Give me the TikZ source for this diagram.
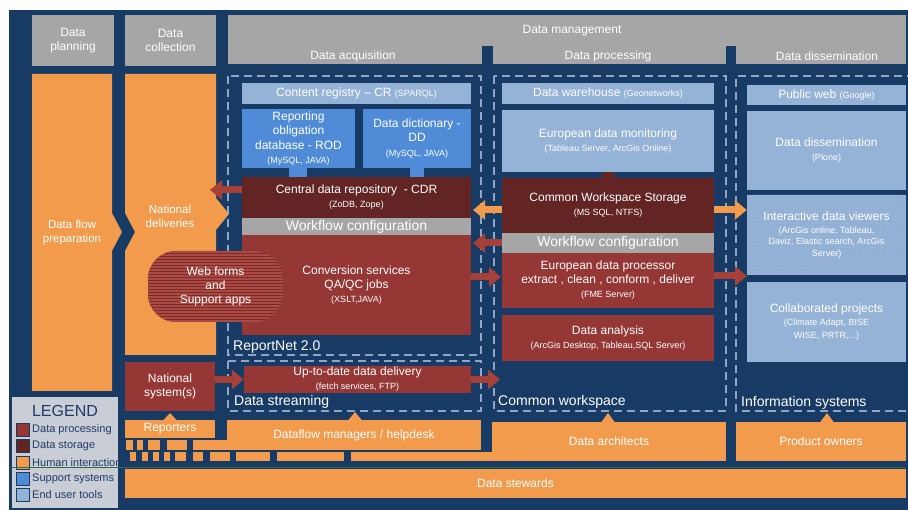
\documentclass[tikz,border=0pt]{standalone}
\usepackage{fontspec}
\setmainfont{Liberation Sans}
\usetikzlibrary{arrows.meta,patterns}
\definecolor{navy}{HTML}{173B65}
\definecolor{hgray}{HTML}{A6A6A6}
\definecolor{orng}{HTML}{F39B4D}
\definecolor{lblue}{HTML}{95B3D7}
\definecolor{mblue}{HTML}{4F8BD6}
\definecolor{dred}{HTML}{953735}
\definecolor{maroon}{HTML}{632523}
\definecolor{dashc}{HTML}{8FA6C4}
\definecolor{legbg}{HTML}{C9CDD5}
\definecolor{legtx}{HTML}{1F3A68}
\definecolor{arrred}{HTML}{A8403A}
\definecolor{wfdark}{HTML}{7E2A27}
\definecolor{wflight}{HTML}{A94B44}
\definecolor{grn}{HTML}{2E6B4A}
\definecolor{dotc}{HTML}{7F9CC2}
\newcommand{\fStd}{\fontsize{12}{14}\selectfont}
\newcommand{\fHead}{\fontsize{12}{14.5}\selectfont}
\newcommand{\fLeft}{\fontsize{11.5}{14}\selectfont}
\newcommand{\fWf}{\fontsize{14}{16}\selectfont}
\newcommand{\fBig}{\fontsize{14}{16}\selectfont}
\newcommand{\smt}[1]{{\fontsize{9}{10.5}\selectfont #1}}
\newcommand{\rbox}[7]{\node[blk,#2,minimum width={(#5-(#3))*1pt},minimum height={(#6-(#4))*1pt}] (#1) at ({(#3+#5)/2},{(#4+#6)/2}) {#7};}
\begin{document}
\begin{tikzpicture}[x=1pt,y=-1pt,
  blk/.style={draw=none, inner sep=0pt, align=center, text=white, font=\fStd},
  lbl/.style={inner sep=0pt, text=white, font=\fHead},
  cont/.style={inner sep=0pt, text=white, font=\fBig, anchor=west},
  dsh/.style={draw=dashc, line width=1.3pt, dash pattern=on 8pt off 5pt},
  rarr/.style={draw=arrred, line width=7pt, -{Triangle[length=12pt,width=19pt]}},
  oarr/.style={draw=orng, line width=7pt, -{Triangle[length=12pt,width=19pt]}},
  legsq/.style={draw=navy, line width=1.5pt, minimum width=13pt, minimum height=13pt, inner sep=0pt},
  legtxt/.style={inner sep=0pt, anchor=west, text=legtx, font=\fontsize{11}{13}\selectfont}
]
\useasboundingbox (0,0) rectangle (908,510);
\clip (0,0) rectangle (908,510);
\fill[white] (0,0) rectangle (908,510);
\fill[navy] (9,10) rectangle (908,510);

% headers
\rbox{plan}{fill=hgray,font=\fHead}{32}{15}{114}{66}{Data\\planning}
\rbox{coll}{fill=hgray,font=\fHead}{125}{15}{216}{66}{Data\\collection}
\rbox{dm}{fill=hgray}{228}{15}{906}{64}{}
\fill[navy] (482,46) rectangle (493,64.5);
\fill[navy] (726,46) rectangle (736,64.5);
\node[lbl] (tdm) at (572,31) {Data management};
\node[lbl] (tacq) at (353,56) {Data acquisition};
\node[lbl] (tproc) at (608,56) {Data processing};
\node[lbl] (tdis) at (827,56) {Data dissemination};

% orange chevron columns
\fill[orng] (32,74) -- (112,74) -- (112,213) -- (122,232) -- (112,251) -- (112,391) -- (32,391) -- cycle;
\node[blk,font=\fLeft] (dfp) at (72,233) {Data flow\\preparation};
\fill[orng] (125,74) -- (216,74) -- (216,198) -- (229,214) -- (216,230) -- (216,355) -- (125,355) -- (125,251) -- (135,232) -- (125,213) -- cycle;
\node[blk,font=\fLeft] (nd) at (170,216) {National\\deliveries};

% dashed containers
\draw[dsh] (228,76) rectangle (481,355);
\draw[dsh] (228,361) rectangle (481,411);
\draw[dsh] (494,76) rectangle (726,411);
\draw[dsh] (915,76) -- (736,76) -- (736,411) -- (915,411);
\node[cont] (trn) at (233,347) {ReportNet 2.0};
\node[cont] (tds) at (234,402) {Data streaming};
\node[cont] (tcw) at (498,402) {Common workspace};
\node[cont] (tis) at (741,403) {Information systems};

% ReportNet
\rbox{cr}{fill=lblue}{242}{83}{471}{104}{Content registry -- CR \smt{(SPARQL)}}
\rbox{rod}{fill=mblue,font=\fHead}{242}{109}{355}{168}{Reporting\\obligation\\database - ROD\\\smt{(MySQL, JAVA)}}
\rbox{dd}{fill=mblue,font=\fHead}{363}{109}{471}{168}{Data dictionary -\\DD\\\smt{(MySQL, JAVA)}}
\rbox{cdr}{fill=maroon}{242}{177}{471}{218}{Central data repository~ - CDR\\\smt{(ZoDB, Zope)}}
\rbox{wf1}{fill=hgray,font=\fWf}{242}{218}{471}{235}{Workflow configuration}
\rbox{conv}{fill=dred}{242}{235}{471}{335}{Conversion services\\QA/QC jobs\\\smt{(XSLT,JAVA)}}
\coordinate (s1) at (298,0);
\coordinate (s2) at (417,0);
\draw[mblue,line width=18pt] (rod.south -| s1) -- (cdr.north -| s1);
\draw[mblue,line width=14pt] (dd.south -| s2) -- (cdr.north -| s2);
\rbox{upd}{fill=dred}{244}{366}{471}{393}{Up-to-date data delivery\\\smt{(fetch services, FTP)}}

% processing
\rbox{dw}{fill=lblue}{502}{83}{714}{104}{Data warehouse \smt{(Geonetworks)}}
\rbox{edm}{fill=lblue}{502}{110}{714}{172}{European data monitoring\\\smt{(Tableau Server, ArcGis Online)}}
\rbox{cws}{fill=maroon}{502}{178}{714}{233}{Common Workspace Storage\\\smt{(MS SQL, NTFS)}}
\coordinate (s3) at (608.5,0);
\draw[maroon,line width=13pt] (edm.south -| s3) -- (cws.north -| s3);
\rbox{wf2}{fill=hgray,font=\fWf}{502}{233}{714}{253}{Workflow configuration}
\rbox{edp}{fill=dred}{502}{253}{714}{308}{European data processor\\extract , clean , conform , deliver\\\smt{(FME Server)}}
\rbox{da}{fill=dred}{502}{315}{714}{361}{Data analysis\\\smt{(ArcGis Desktop, Tableau,SQL Server)}}

% dissemination
\rbox{pw}{fill=lblue}{747}{85}{906}{105}{Public web \smt{(Google)}}
\rbox{dis}{fill=lblue}{747}{111}{906}{190}{Data dissemination\\\smt{(Plone)}}
\rbox{idv}{fill=lblue,postaction={pattern=dots,pattern color=dotc},font=\fontsize{12}{11.5}\selectfont}{747}{195}{906}{275}{Interactive data viewers\\[1.5pt]\smt{(ArcGis online, Tableau,}\\\smt{Daviz, Elastic search, ArcGis}\\\smt{Server)}}
\rbox{cp}{fill=lblue,font=\fontsize{12}{12.5}\selectfont}{747}{282}{906}{362}{Collaborated projects\\[1pt]\smt{(Climate Adapt, BISE}\\\smt{WISE, PRTR,...)}}

% web forms
\node[blk, rounded corners=28pt, fill=wfdark, minimum width=135pt, minimum height=71pt,
  path picture={\foreach \k in {0,...,24} {\draw[wflight,line width=1.2pt] ([yshift=-\k*3pt-1pt]path picture bounding box.north west) -- ([yshift=-\k*3pt-1pt]path picture bounding box.north east);}}]
  (web) at (215.5,286.5) {Web forms\\and\\Support apps};

% national systems & people
\rbox{nsys}{fill=dred,font=\fHead}{125}{362}{215}{411}{National\\system(s)}
\rbox{rep}{fill=orng,font=\fHead}{125}{420}{215}{438}{Reporters}
\rbox{dfm}{fill=orng,font=\fHead}{227}{420}{481}{450}{Dataflow managers / helpdesk}
\rbox{darch}{fill=orng,font=\fHead}{492}{422}{726}{461}{Data architects}
\rbox{po}{fill=orng,font=\fHead}{736}{422}{906}{461}{Product owners}
\rbox{ds}{fill=orng,font=\fHead}{125}{469}{906}{498}{Data stewards}
\fill[orng] (163,420.5) -- (170,413) -- (177,420.5) -- cycle;
\fill[orng] (348,420.5) -- (355,412) -- (362,420.5) -- cycle;
\fill[orng] (601,422.5) -- (608,413) -- (615,422.5) -- cycle;
\fill[orng] (820,422.5) -- (827,413) -- (834,422.5) -- cycle;
\foreach \a/\b in {126/133,137/143,148/160,167/187,193/228} {\fill[orng] (\a,440) rectangle (\b,450);}
\foreach \a/\b in {130/136,142/148,153/159,164/170,175/186,193/203,210/230,236/270,277/344,351/493} {\fill[orng] (\a,452) rectangle (\b,461);}

% arrows
\coordinate (a1) at (210,190);
\coordinate (a2) at (473,210);
\coordinate (a3) at (473,243);
\coordinate (a4) at (501,277);
\coordinate (a5) at (747,210);
\coordinate (a6) at (747,276);
\coordinate (a8) at (500,379.5);
\draw[rarr] (cdr.west |- a1) -- (a1);
\draw[oarr] (cws.west |- a2) -- (a2);
\draw[rarr] (wf2.west |- a3) -- (a3);
\draw[rarr] (conv.east |- a4) -- (a4);
\draw[oarr] (cws.east |- a5) -- (idv.west |- a5);
\draw[rarr] (edp.east |- a6) -- (a6);
\draw[rarr] (nsys.east |- upd.west) -- (upd.west);
\draw[rarr] (upd.east) -- (a8);

% legend
\begin{scope}
\clip (12,397) rectangle (118,508);
\node[fill=legbg, minimum width=106pt, minimum height=111pt, inner sep=0pt] (leg) at (65,452.5) {};
\node[inner sep=0pt, text=legtx, font=\fontsize{16}{18}\selectfont] (legt) at (65,411) {LEGEND};
\node[legsq, fill=dred] (l1) at (23,430) {};
\node[legsq, fill=maroon] (l2) at (23,446) {};
\node[legsq, fill=orng] (l3) at (23,463) {};
\node[legsq, fill=mblue] (l4) at (23,479) {};
\node[legsq, fill=lblue] (l5) at (23,495) {};
\node[legtxt] (t1) at (32,430) {Data processing};
\node[legtxt] (t2) at (32,446) {Data storage};
\node[legtxt] (t3) at (32,463) {Human interaction};
\node[legtxt] (t4) at (32,479) {Support systems};
\node[legtxt] (t5) at (32,495) {End user tools};
\end{scope}
\draw[grn, line width=1.2pt] (10,467.5) -- (906,467.5);
\end{tikzpicture}
\end{document}
